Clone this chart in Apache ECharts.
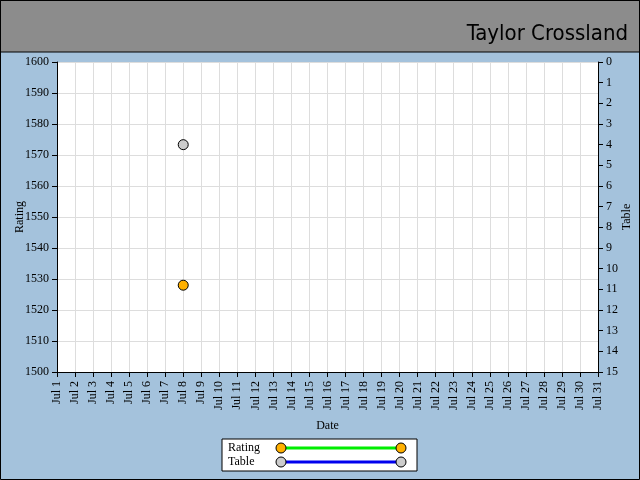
<!DOCTYPE html>
<html>
<head>
    <meta charset="utf-8">
    <title>ECharts</title>
    <script type="text/javascript" src="https://cdn.jsdelivr.net/npm/echarts@6/dist/echarts.min.js"></script>
    <style>
        html, body { margin: 0; padding: 0; }
    </style>
</head>
<body>
<div id="main" style="width: 640px;height:480px;"></div>
<script type="text/javascript">
    // chart data
    var days = [];
    for (var d = 1; d <= 31; d++) { days.push('Jul ' + d); }
    var ratingValues = [null, null, null, null, null, null, null, 1528, null, null, null, null, null, null, null, null,
        null, null, null, null, null, null, null, null, null, null, null, null, null, null, null];
    var tableValues = [null, null, null, null, null, null, null, 4, null, null, null, null, null, null, null, null,
        null, null, null, null, null, null, null, null, null, null, null, null, null, null, null];
    var playerName = 'Taylor Crossland';

    var serif = 'Liberation Serif';

    // legend icon: line with a marker at each end
    function legendIcon(lineColor, dotColor) {
        var svg = '<svg xmlns="http://www.w3.org/2000/svg" width="132" height="12">' +
            '<line x1="6" y1="6" x2="126" y2="6" stroke="' + lineColor + '" stroke-width="3"/>' +
            '<circle cx="6" cy="6" r="5" fill="' + dotColor + '" stroke="#000" stroke-width="1"/>' +
            '<circle cx="126" cy="6" r="5" fill="' + dotColor + '" stroke="#000" stroke-width="1"/></svg>';
        return 'image://data:image/svg+xml;charset=utf-8,' + encodeURIComponent(svg);
    }

    var myChart = echarts.init(document.getElementById('main'));

    var option = {
        backgroundColor: '#a4c2dc',
        animation: false,
        graphic: [
            { type: 'rect', z: 0, shape: { x: 0, y: 0, width: 640, height: 52 },
              style: { fill: '#8c8c8c', stroke: '#000', lineWidth: 1 } },
            { type: 'rect', z: 0, shape: { x: 57, y: 62, width: 541, height: 310 },
              style: { fill: '#fff' } },
            { type: 'text', z: 10, right: 12, top: 23,
              style: { text: playerName, fill: '#000', font: '22px "DejaVu Sans Condensed", "Liberation Sans Narrow", sans-serif' } },
            { type: 'rect', z: 100, shape: { x: 0.5, y: 0.5, width: 639, height: 479 },
              style: { fill: 'none', stroke: '#000', lineWidth: 1 } }
        ],
        grid: { left: 57, right: 42, top: 62, bottom: 108, outerBoundsMode: 'none' },
        legend: {
            orient: 'vertical',
            left: 222, top: 439,
            align: 'right',
            backgroundColor: '#fff',
            borderColor: '#000',
            borderWidth: 1,
            padding: [3, 10, 3, 6],
            itemGap: 2,
            itemWidth: 132,
            itemHeight: 12,
            formatter: '{t|{name}}',
            textStyle: {
                fontFamily: serif, fontSize: 12, color: '#000',
                rich: { t: { fontFamily: serif, fontSize: 12, color: '#000', width: 42, align: 'left' } }
            },
            data: [
                { name: 'Rating', icon: legendIcon('#00ee00', '#ffb000') },
                { name: 'Table', icon: legendIcon('#0000ee', '#cccccc') }
            ]
        },
        xAxis: {
            type: 'category',
            data: days,
            boundaryGap: false,
            name: 'Date',
            nameLocation: 'middle',
            nameGap: 48,
            nameMoveOverlap: false,
            nameTextStyle: { fontFamily: serif, fontSize: 12, color: '#000' },
            axisLine: { onZero: false, lineStyle: { color: '#000' } },
            axisTick: { show: true, interval: 0, length: 5, lineStyle: { color: '#000' } },
            axisLabel: { rotate: 90, interval: 0, fontFamily: serif, fontSize: 12, color: '#000', margin: 9 },
            splitLine: { show: true, interval: 0, lineStyle: { color: '#dddddd' } }
        },
        yAxis: [{
            type: 'value',
            min: 1500, max: 1600, interval: 10,
            name: 'Rating',
            nameLocation: 'middle',
            nameGap: 31,
            nameRotate: 90,
            nameMoveOverlap: false,
            nameTextStyle: { fontFamily: serif, fontSize: 12, color: '#000' },
            axisLine: { show: true, lineStyle: { color: '#000' } },
            axisTick: { show: true, length: 5, lineStyle: { color: '#000' } },
            axisLabel: { fontFamily: serif, fontSize: 12, color: '#000', margin: 8,
                         formatter: function (v) { return String(v); } },
            splitLine: { show: true, lineStyle: { color: '#dddddd' } }
        }, {
            type: 'value',
            min: 0, max: 15, interval: 1,
            inverse: true,
            position: 'right',
            name: 'Table',
            nameLocation: 'middle',
            nameGap: 23,
            nameRotate: 90,
            nameMoveOverlap: false,
            nameTextStyle: { fontFamily: serif, fontSize: 12, color: '#000' },
            axisLine: { show: true, lineStyle: { color: '#000' } },
            axisTick: { show: true, length: 5, lineStyle: { color: '#000' } },
            axisLabel: { fontFamily: serif, fontSize: 12, color: '#000', margin: 8 },
            splitLine: { show: false }
        }],
        series: [{
            name: 'Rating',
            type: 'line',
            yAxisIndex: 0,
            data: ratingValues,
            symbol: 'circle',
            symbolSize: 10,
            showSymbol: true,
            lineStyle: { color: '#00ee00', width: 3 },
            itemStyle: { color: '#ffb000', borderColor: '#000', borderWidth: 1 }
        }, {
            name: 'Table',
            type: 'line',
            yAxisIndex: 1,
            data: tableValues,
            symbol: 'circle',
            symbolSize: 10,
            showSymbol: true,
            lineStyle: { color: '#0000ee', width: 3 },
            itemStyle: { color: '#cccccc', borderColor: '#000', borderWidth: 1 }
        }]
    };

    myChart.setOption(option);
</script>
</body>
</html>
